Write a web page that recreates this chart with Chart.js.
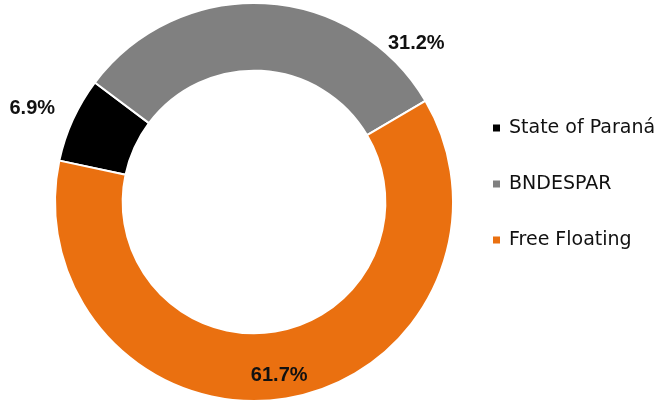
<!DOCTYPE html>
<html>
<head>
<meta charset="utf-8">
<script src="https://cdn.jsdelivr.net/npm/chart.js@4/dist/chart.umd.min.js"></script>
<style>
  html, body { margin: 0; padding: 0; background: #ffffff; }
  #wrap { width: 665px; height: 409px; }
</style>
</head>
<body>
<div id="wrap"><canvas id="chart" width="665" height="409"></canvas></div>
<script>
// Shareholder structure
const categories = ['State of Paraná', 'BNDESPAR', 'Free Floating'];
const shares = [6.9, 31.2, 61.7];
const valueLabels = ['6.9%', '31.2%', '61.7%'];
const sliceColors = ['#000000', '#808080', '#EA7010'];

// Percentage labels placed along each slice (angle shift in degrees, radius as share of outer radius)
const percentLabels = {
  id: 'percentLabels',
  afterDatasetsDraw(chart, args, opts) {
    const ctx = chart.ctx;
    const meta = chart.getDatasetMeta(0);
    ctx.save();
    ctx.font = opts.font;
    ctx.fillStyle = opts.color;
    ctx.textAlign = 'center';
    ctx.textBaseline = 'middle';
    meta.data.forEach((arc, i) => {
      const p = arc.getProps(['x', 'y', 'startAngle', 'endAngle', 'outerRadius'], true);
      const mid = (p.startAngle + p.endAngle) / 2 + opts.shift[i] * Math.PI / 180;
      const r = p.outerRadius * opts.radius[i];
      ctx.fillText(valueLabels[i], p.x + Math.cos(mid) * r, p.y + Math.sin(mid) * r);
    });
    ctx.restore();
  }
};

// Column legend on the right
const sideLegend = {
  id: 'sideLegend',
  afterDraw(chart, args, opts) {
    const ctx = chart.ctx;
    const ds = chart.data.datasets[0];
    ctx.save();
    ctx.font = opts.font;
    ctx.textBaseline = 'middle';
    ctx.textAlign = 'left';
    chart.data.labels.forEach((label, i) => {
      const y = opts.top + i * opts.step;
      ctx.fillStyle = ds.backgroundColor[i];
      ctx.fillRect(opts.x, y - opts.box / 2, opts.box, opts.box);
      ctx.fillStyle = opts.color;
      ctx.fillText(label, opts.x + opts.box + opts.gap, y);
    });
    ctx.restore();
  }
};

new Chart(document.getElementById('chart'), {
  type: 'doughnut',
  data: {
    labels: categories,
    datasets: [{
      data: shares,
      backgroundColor: sliceColors,
      borderColor: '#ffffff',
      borderWidth: 2,
      hoverOffset: 0
    }]
  },
  options: {
    responsive: false,
    animation: false,
    rotation: -78,
    cutout: '66%',
    layout: { padding: { left: 54, right: 211, top: 2, bottom: 7 } },
    plugins: {
      legend: { display: false },
      tooltip: { enabled: false },
      percentLabels: {
        font: 'bold 20px "Liberation Sans", Arial, sans-serif',
        color: '#111111',
        shift: [-1.5, 42.5, 1],
        radius: [1.21, 1.14, 0.88]
      },
      sideLegend: {
        font: '19px "DejaVu Sans", sans-serif',
        color: '#111111',
        x: 493, top: 128, step: 56, box: 7, gap: 9
      }
    }
  },
  plugins: [percentLabels, sideLegend]
});
</script>
</body>
</html>
